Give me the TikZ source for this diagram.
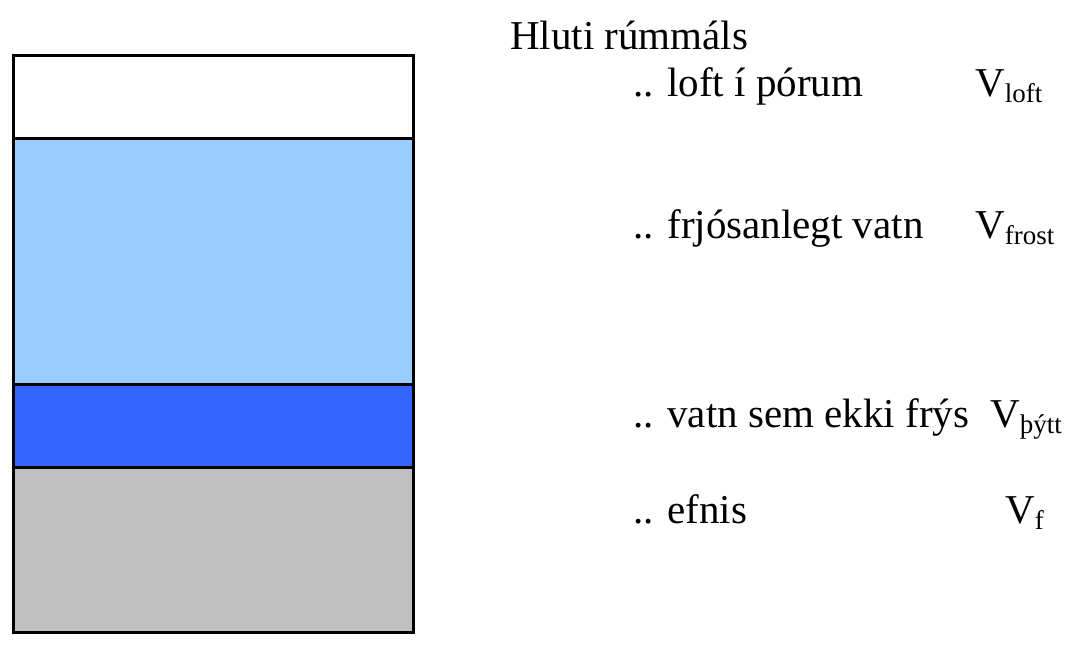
\documentclass[tikz,border=0pt]{standalone}
\usepackage{fontspec}
\setmainfont{Liberation Serif}
\newfontfamily\timesfont{Liberation Serif}
\definecolor{lightwater}{HTML}{99CCFF}
\definecolor{darkwater}{HTML}{3366FF}
\definecolor{solidgray}{HTML}{C0C0C0}
\newcommand{\mysub}[1]{\raisebox{-6pt}{\fontsize{27}{27}\selectfont #1}}
\begin{document}
\begin{tikzpicture}[x=1pt,y=-1pt,
  layer/.style={draw=black,line width=3pt},
  label/.style={anchor=base west,inner sep=0pt,font=\timesfont\fontsize{41}{41}\selectfont}]
\useasboundingbox (0,0) rectangle (1086,652);
\fill[white] (0,0) rectangle (1086,652);
\path[layer,fill=white] (13.5,55.5) rectangle (413.5,138.5);
\path[layer,fill=lightwater] (13.5,138.5) rectangle (413.5,384);
\path[layer,fill=darkwater] (13.5,384) rectangle (413.5,467);
\path[layer,fill=solidgray] (13.5,467) rectangle (413.5,632);
\node[label] (title) at (510,50) {Hluti rúmmáls};
\node[label] (air) at (633,97) {.. loft í pórum};
\node[label] (frost) at (633,239) {.. frjósanlegt vatn};
\node[label] (bound) at (633,427) {.. vatn sem ekki frýs};
\node[label] (solid) at (633,523) {.. efnis};
\node[label] (vair) at (975,97) {V\mysub{loft}};
\node[label] (vfrost) at (975,239) {V\mysub{frost}};
\node[label] (vbound) at (990,427) {V\mysub{þýtt}};
\node[label] (vsolid) at (1005,523) {V\mysub{f}};
\end{tikzpicture}
\end{document}
